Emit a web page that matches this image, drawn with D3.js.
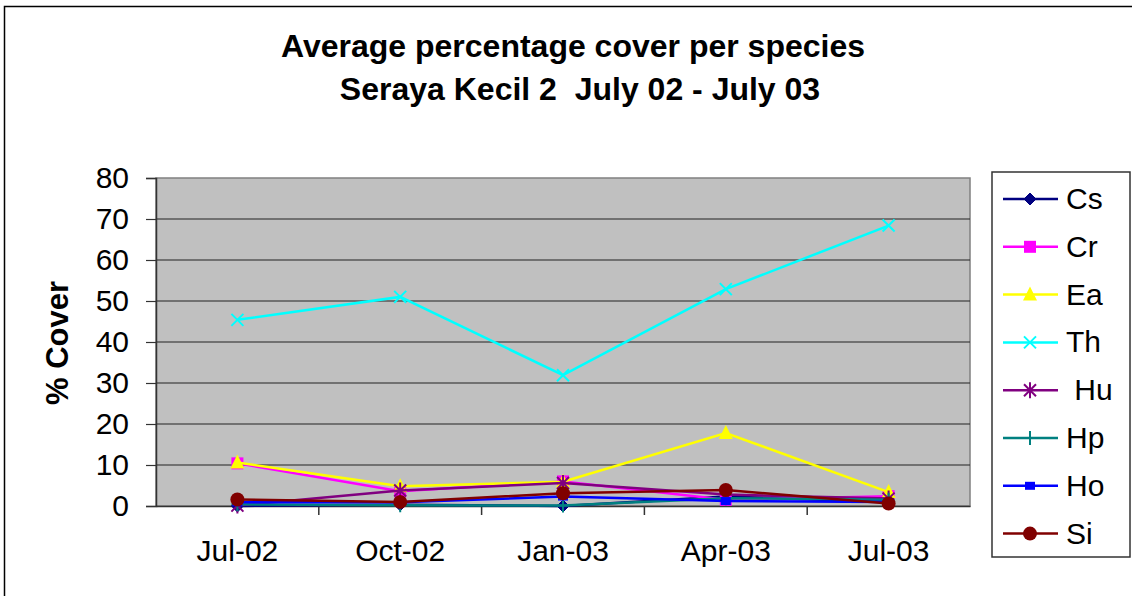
<!DOCTYPE html>
<meta charset="utf-8">
<script src="https://d3js.org/d3.v7.min.js"></script>
<style>
    body { margin: 0; background: white; }
    text { font-family: Arial, "Liberation Sans", sans-serif; }
</style>
<body>
<div id="chart"></div>
</body>
<script>
    const months = ["Jul-02", "Oct-02", "Jan-03", "Apr-03", "Jul-03"];
    const yTicks = [0, 10, 20, 30, 40, 50, 60, 70, 80];

    const cs = [0, 0.3, 0, 2.3, 1.0];
    const cr = [10.4, 3.6, 6.0, 1.5, 2.4];
    const ea = [10.6, 4.8, 5.9, 17.8, 3.4];
    const th = [45.4, 51.0, 31.9, 52.9, 68.4];
    const hu = [0.1, 3.8, 5.6, 2.8, 1.8];
    const hp = [0.4, 0.2, 0.1, 1.9, 1.5];
    const ho = [0.9, 0.9, 2.3, 1.2, 1.0];
    const si = [1.6, 1.0, 3.1, 3.9, 0.6];

    const series = [
        {name: "Cs", label: "Cs", values: cs, color: "#000080", marker: "diamond"},
        {name: "Cr", label: "Cr", values: cr, color: "#FF00FF", marker: "square"},
        {name: "Ea", label: "Ea", values: ea, color: "#FFFF00", marker: "triangle"},
        {name: "Th", label: "Th", values: th, color: "#00FFFF", marker: "cross"},
        {name: "Hu", label: "\u00a0Hu", values: hu, color: "#800080", marker: "asterisk"},
        {name: "Hp", label: "Hp", values: hp, color: "#008080", marker: "plus"},
        {name: "Ho", label: "Ho", values: ho, color: "#0000FF", marker: "smallsquare"},
        {name: "Si", label: "Si", values: si, color: "#800000", marker: "circle"}
    ];

    const W = 1132, H = 596;
    const plot = {left: 156, right: 970, top: 178, bottom: 506};
    const FONT = "Arial, 'Liberation Sans', sans-serif";

    const svg = d3.select("#chart").append("svg")
        .attr("width", W).attr("height", H);

    // outer chart frame
    svg.append("rect")
        .attr("x", 4.5).attr("y", 6.5)
        .attr("width", W + 10).attr("height", H + 10)
        .attr("fill", "white").attr("stroke", "#000").attr("stroke-width", 1.5);

    const x = d3.scaleBand().domain(months).range([plot.left, plot.right]);
    const y = d3.scaleLinear().domain([0, 80]).range([plot.bottom, plot.top]);

    // plot area
    svg.append("rect")
        .attr("x", plot.left).attr("y", plot.top)
        .attr("width", plot.right - plot.left).attr("height", plot.bottom - plot.top)
        .attr("fill", "#C0C0C0").attr("stroke", "#808080").attr("stroke-width", 1.5);

    // gridlines
    svg.append("g").selectAll("line")
        .data(yTicks.filter(d => d > 0 && d < 80))
        .join("line")
        .attr("x1", plot.left).attr("x2", plot.right)
        .attr("y1", d => y(d)).attr("y2", d => y(d))
        .attr("stroke", "#222").attr("stroke-width", 1.2);

    // y axis
    const yAxis = svg.append("g")
        .attr("transform", "translate(" + plot.left + ",0)")
        .call(d3.axisLeft(y).tickValues(yTicks).tickSize(10).tickPadding(17));
    yAxis.select(".domain").attr("stroke", "#333").attr("stroke-width", 1.5);
    yAxis.selectAll(".tick line").attr("stroke", "#333").attr("stroke-width", 1.2);
    yAxis.selectAll("text")
        .style("font-size", "30px").style("font-family", FONT)
        .attr("fill", "#000");

    // x axis
    const xAxis = svg.append("g")
        .attr("transform", "translate(0," + plot.bottom + ")")
        .call(d3.axisBottom(x).tickSize(0).tickPadding(34));
    xAxis.select(".domain").attr("stroke", "#333").attr("stroke-width", 1.5);
    xAxis.selectAll("text")
        .style("font-size", "30px").style("font-family", FONT)
        .attr("fill", "#000");
    xAxis.selectAll(".xsep")
        .data(months.slice(1))
        .join("line")
        .attr("x1", d => x(d)).attr("x2", d => x(d))
        .attr("y1", 0).attr("y2", 9)
        .attr("stroke", "#333").attr("stroke-width", 1.5);

    // titles
    svg.append("text")
        .attr("x", 573).attr("y", 57)
        .attr("text-anchor", "middle")
        .style("font-size", "32px").style("font-weight", "bold")
        .text("Average percentage cover per species");
    svg.append("text")
        .attr("x", 580).attr("y", 100)
        .attr("text-anchor", "middle")
        .style("font-size", "32px").style("font-weight", "bold")
        .style("white-space", "pre")
        .text("Seraya Kecil 2  July 02 - July 03");

    svg.append("text")
        .attr("transform", "translate(68,343) rotate(-90)")
        .attr("text-anchor", "middle")
        .style("font-size", "31px").style("font-weight", "bold")
        .text("% Cover");

    function drawMarker(g, type, color) {
        switch (type) {
            case "diamond":
                g.append("path").attr("d", "M0,-6L6,0L0,6L-6,0Z").attr("fill", color).attr("stroke", color);
                break;
            case "square":
                g.append("rect").attr("x", -6).attr("y", -6).attr("width", 12).attr("height", 12).attr("fill", color);
                break;
            case "triangle":
                g.append("path").attr("d", "M0,-8L7,6L-7,6Z").attr("fill", color);
                break;
            case "cross":
                g.append("path").attr("d", "M-6,-6L6,6M-6,6L6,-6").attr("stroke", color).attr("stroke-width", 2).attr("fill", "none");
                break;
            case "asterisk":
                g.append("path").attr("d", "M-6,-6L6,6M-6,6L6,-6M0,-8L0,8").attr("stroke", color).attr("stroke-width", 2).attr("fill", "none");
                break;
            case "plus":
                g.append("path").attr("d", "M-6,0L6,0M0,-7L0,7").attr("stroke", color).attr("stroke-width", 2).attr("fill", "none");
                break;
            case "smallsquare":
                g.append("rect").attr("x", -5).attr("y", -4).attr("width", 10).attr("height", 8).attr("fill", color);
                break;
            case "circle":
                g.append("circle").attr("r", 7).attr("fill", color);
                break;
        }
    }

    const line = d3.line()
        .x((d, i) => x(months[i]) + x.bandwidth() / 2)
        .y(d => y(d));

    series.forEach(s => {
        const g = svg.append("g");
        g.append("path")
            .attr("d", line(s.values))
            .attr("fill", "none")
            .attr("stroke", s.color)
            .attr("stroke-width", 2.5);
        s.values.forEach((v, i) => {
            const m = g.append("g")
                .attr("transform", "translate(" + (x(months[i]) + x.bandwidth() / 2) + "," + y(v) + ")");
            drawMarker(m, s.marker, s.color);
        });
    });

    // legend
    const legend = svg.append("g");
    legend.append("rect")
        .attr("x", 992).attr("y", 172)
        .attr("width", 138).attr("height", 385)
        .attr("fill", "white").attr("stroke", "#333").attr("stroke-width", 1.5);

    series.forEach((s, i) => {
        const ly = 199 + i * 47.8;
        const g = legend.append("g").attr("transform", "translate(0," + ly + ")");
        g.append("line")
            .attr("x1", 1003).attr("x2", 1058)
            .attr("stroke", s.color).attr("stroke-width", 2.5);
        const m = g.append("g").attr("transform", "translate(1030,0)");
        drawMarker(m, s.marker, s.color);
        g.append("text")
            .attr("x", 1066).attr("y", 10)
            .style("font-size", "30px")
            .style("white-space", "pre")
            .text(s.label);
    });
</script>
</html>
